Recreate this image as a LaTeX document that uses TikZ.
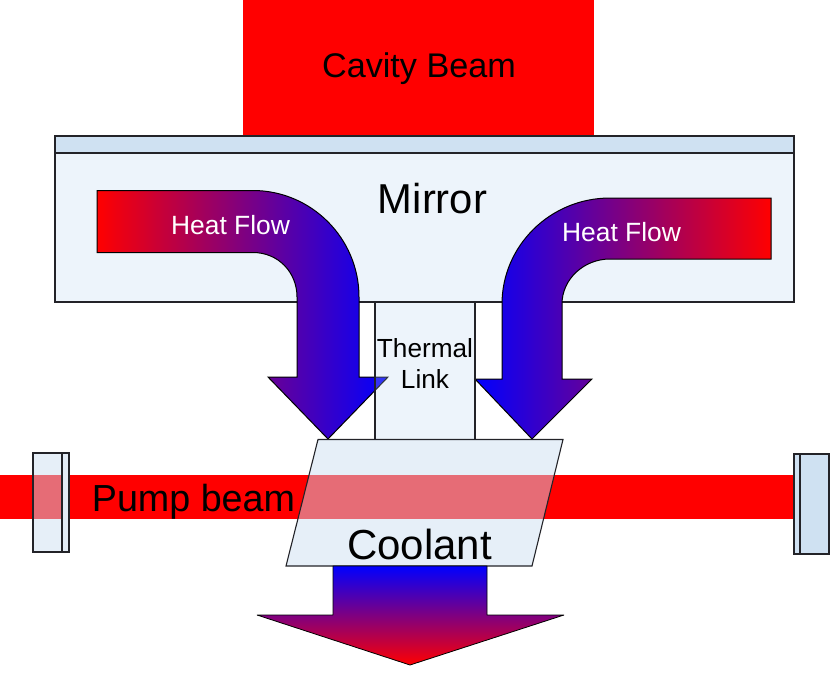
\documentclass[tikz,border=0pt]{standalone}
\usepackage{fontspec}
\setmainfont{Liberation Sans}
\definecolor{lightfill}{RGB}{183,211,239}
\definecolor{coolfill}{RGB}{204,222,241}
\definecolor{endfill}{RGB}{227,236,246}
\definecolor{stripfill}{RGB}{207,225,242}
\definecolor{edge}{RGB}{35,35,40}
\tikzset{
  beam/.style={fill=red,draw=none},
  glassbox/.style={fill=lightfill,fill opacity=.25,draw=edge,line width=1.1pt},
  coolbox/.style={fill=coolfill,fill opacity=.49,draw=edge,line width=1.1pt},
  stripbox/.style={fill=stripfill,draw=edge,line width=1.1pt},
  flow/.style={draw=black,line width=1pt,line join=miter},
  lbl/.style={anchor=base,inner sep=0pt,text=black},
  heat/.style={lbl,text=white,font=\fontsize{26.4}{30}\selectfont}
}
\begin{document}
\begin{tikzpicture}[x=1pt,y=-1pt]
\useasboundingbox (0,0) rectangle (830,699);
% beams
\fill[beam] (243,0) rectangle (594,136);
\fill[beam] (0,475) rectangle (794,519);
% mirror body
\draw[glassbox] (55,153) rectangle (794,302);
\draw[stripbox] (55,136) rectangle (794,153);
% heat-flow arrows
\shadedraw[flow,left color=red,right color=blue]
  (97,190.5) -- (253,190.5) .. controls (311,190.5) and (359,238) .. (359,297)
  -- (359,377) -- (388,377) -- (328,439) -- (268,377) -- (297,377) -- (297,297)
  .. controls (297,272) and (278,252.5) .. (253,252.5) -- (97,252.5) -- cycle;
\shadedraw[flow,left color=blue,right color=red]
  (771,198) -- (610,198) .. controls (550,198) and (502,246) .. (502,304)
  -- (502,379) -- (475,379) -- (532,439) -- (592,379) -- (562,379) -- (562,304)
  .. controls (562,279) and (584,259) .. (610,259) -- (771,259) -- cycle;
% thermal link
\draw[glassbox] (375,302) rectangle (475,439.5);
% coolant
\draw[coolbox] (318,439.5) -- (563,439.5) -- (532,566) -- (286,566) -- cycle;
% output arrow
\shade[top color=blue,bottom color=red]
  (333,566) -- (487,566) -- (487,615) -- (564,615) -- (410,665) -- (257,615) -- (333,615) -- cycle;
\draw[black,line width=.8pt,line join=bevel] (333,615) -- (257,615) -- (410,665) -- (564,615) -- (487,615) -- (487,566) -- (333,566) -- cycle;
% end mirrors
\draw[coolbox] (33,453) rectangle (62,552);
\draw[fill=endfill,draw=edge,line width=1.1pt] (62,453) rectangle (69,552);
\draw[stripbox] (800,454) rectangle (829,554);
\draw[stripbox] (794,454) rectangle (800,554);
% labels
\node[lbl,font=\fontsize{34.2}{40}\selectfont] (cavity) at (419,77) {Cavity Beam};
\node[lbl,font=\fontsize{41.8}{48}\selectfont] (mirror) at (432.5,213) {Mirror};
\node[heat] (heatl) at (230.5,234) {Heat Flow};
\node[heat] (heatr) at (621.5,241) {Heat Flow};
\node[lbl,font=\fontsize{26.2}{30}\selectfont] (thermal) at (425,357) {Thermal};
\node[lbl,font=\fontsize{26.2}{30}\selectfont] (link) at (425,388) {Link};
\node[lbl,font=\fontsize{37.7}{44}\selectfont] (pump) at (193.5,511) {Pump beam};
\node[lbl,font=\fontsize{42}{48}\selectfont] (coolant) at (419.5,559) {Coolant};
\end{tikzpicture}
\end{document}
